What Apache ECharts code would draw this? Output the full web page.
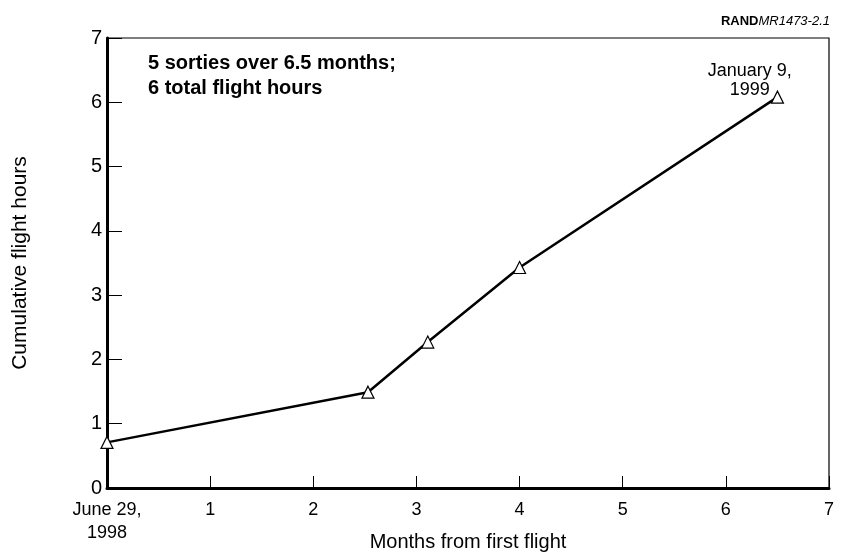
<!DOCTYPE html>
<html><head><meta charset="utf-8">
<script src="https://cdn.jsdelivr.net/npm/echarts@6/dist/echarts.min.js"></script>
<style>html,body{margin:0;padding:0;background:#fff}#c{width:841px;height:556px}</style>
</head><body><div id="c"></div>
<script>
const months = [0, 2.53, 3.11, 4.0, 6.5];
const hours = [0.71, 1.49, 2.27, 3.43, 6.08];
const xTicks = [0, 1, 2, 3, 4, 5, 6, 7];
const yTicks = [0, 1, 2, 3, 4, 5, 6, 7];
const startLabel = 'June 29,\n1998';
const endLabel = 'January 9,\n1999';
const noteText = '5 sorties over 6.5 months;\n6 total flight hours';
const xName = 'Months from first flight';
const yName = 'Cumulative flight hours';

const F = 'Liberation Sans, Arial, sans-serif';
const chart = echarts.init(document.getElementById('c'));
const data = months.map((m, i) => {
  const d = { value: [m, hours[i]] };
  if (i === months.length - 1) {
    d.label = { show: true, formatter: endLabel, position: 'left', offset: [-16, -17], align: 'center',
      fontFamily: F, fontSize: 18, color: '#000', lineHeight: 19 };
  }
  return d;
});
chart.setOption({
  animation: false,
  grid: { left: 107, right: 12, top: 38, bottom: 68, show: true, borderColor: '#000', borderWidth: 1.2,
    outerBoundsMode: 'none', containLabel: false },
  xAxis: {
    type: 'value', min: xTicks[0], max: xTicks[xTicks.length - 1], interval: 1,
    name: xName, nameLocation: 'middle', nameGap: 44, nameMoveOverlap: false,
    nameTextStyle: { fontFamily: F, fontSize: 20, color: '#000', verticalAlign: 'top' },
    axisLine: { lineStyle: { color: '#000', width: 3 } },
    axisTick: { inside: true, length: 12, lineStyle: { color: '#000', width: 1 } },
    axisLabel: { fontFamily: F, fontSize: 18, color: '#000', margin: 11, lineHeight: 23,
      formatter: v => v === 0 ? startLabel : String(v) },
    splitLine: { show: false }
  },
  yAxis: {
    type: 'value', min: yTicks[0], max: yTicks[yTicks.length - 1], interval: 1,
    name: yName, nameLocation: 'middle', nameGap: 76,
    nameTextStyle: { fontFamily: F, fontSize: 21, color: '#000' },
    axisLine: { show: true, lineStyle: { color: '#000', width: 3 } },
    axisTick: { show: true, inside: true, length: 15, lineStyle: { color: '#000', width: 1 } },
    axisLabel: { fontFamily: F, fontSize: 20, color: '#000', margin: 5 },
    splitLine: { show: false }
  },
  graphic: [
    { type: 'text', left: 148, top: 51, style: { text: noteText, font: 'bold 20px ' + F, fill: '#000', lineHeight: 25 } },
    { type: 'text', right: 11, top: 15, style: {
      text: '{a|RAND}{b|MR1473-2.1}',
      rich: { a: { font: 'bold 13px ' + F, fill: '#000' }, b: { font: 'italic 13px ' + F, fill: '#000' } } } }
  ],
  series: [{
    type: 'line', data: data,
    symbol: 'triangle', symbolSize: 12, showSymbol: true,
    itemStyle: { color: '#fff', borderColor: '#000', borderWidth: 1.2 },
    lineStyle: { color: '#000', width: 2.5 },
    z: 5
  }]
});
</script></body></html>
